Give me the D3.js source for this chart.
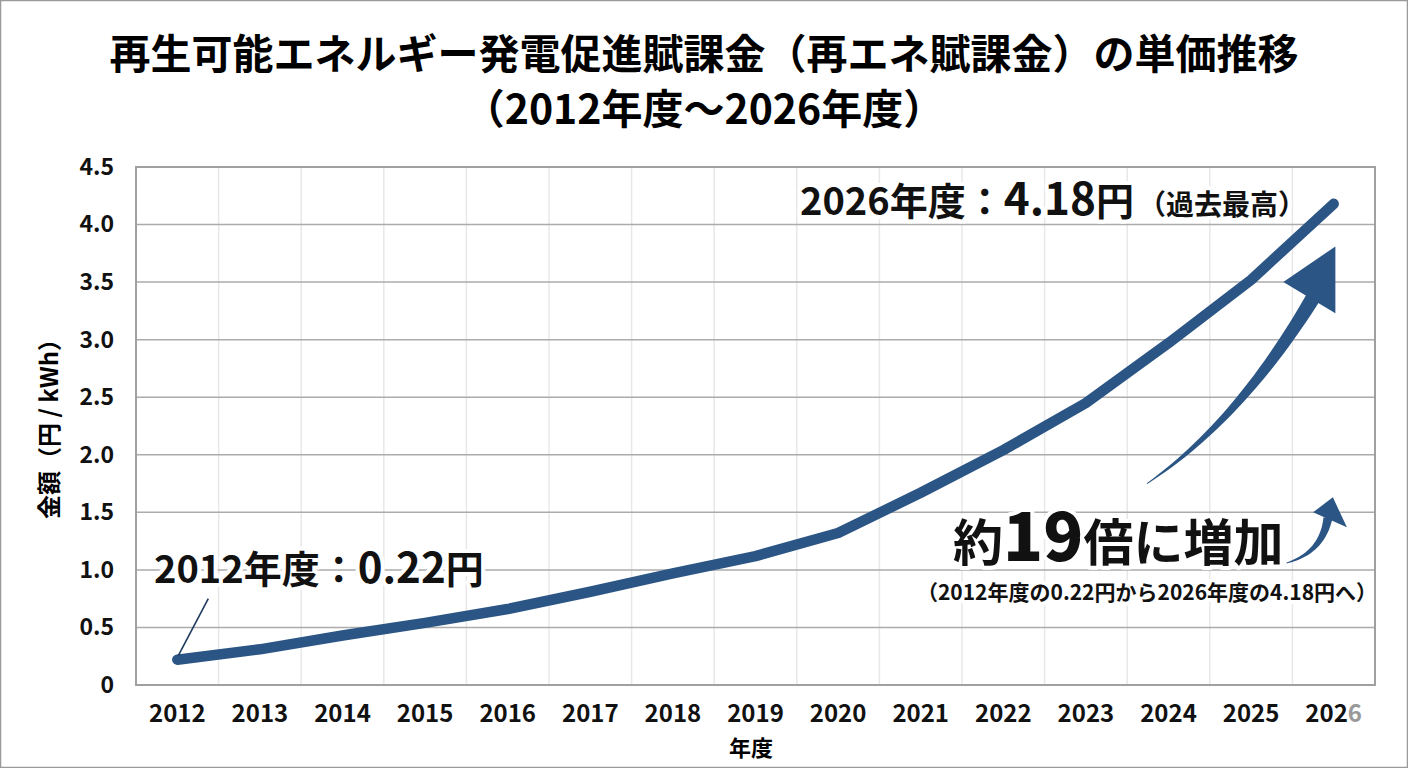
<!DOCTYPE html>
<html>
<head>
<meta charset="utf-8">
<script src="https://cdn.jsdelivr.net/npm/d3@7"></script>
<style>
  html, body { margin: 0; padding: 0; background: #fff; }
  text { font-family: "Noto Sans CJK JP", "Noto Sans", sans-serif; font-weight: 700; }
</style>
</head>
<body>
<div id="chart"></div>
<script>
// Data
var years = ['2012', '2013', '2014', '2015', '2016', '2017', '2018', '2019',
             '2020', '2021', '2022', '2023', '2024', '2025', '2026'];
var levy = [0.22, 0.31, 0.43, 0.54, 0.66, 0.81, 0.97, 1.12,
            1.32, 1.67, 2.04, 2.45, 2.97, 3.52, 4.18];
var yTicks = [0, 0.5, 1.0, 1.5, 2.0, 2.5, 3.0, 3.5, 4.0, 4.5];
var yTickLabels = ['0', '0.5', '1.0', '1.5', '2.0', '2.5', '3.0', '3.5', '4.0', '4.5'];

var titleLines = ['再生可能エネルギー発電促進賦課金（再エネ賦課金）の単価推移', '（2012年度～2026年度）'];

// Set margin parameters
var W = 1408, H = 768;
var margin = {top: 167, right: 33, bottom: 83, left: 136},
    width = W - margin.left - margin.right,
    height = H - margin.top - margin.bottom;

var navy = '#2b5584';

var x = d3.scaleBand().domain(years).range([0, width]).padding(0);
var y = d3.scaleLinear().domain([0, 4.5]).range([height, 0]);
var bw = x.bandwidth();

// helpers: fractional year index / value -> pixels
function px(i) { return x(years[0]) + bw / 2 + i * bw; }
function py(v) { return y(v); }

var svg = d3.select('#chart').append('svg')
    .attr('width', W)
    .attr('height', H);

svg.append('rect')
    .attr('x', 0.5).attr('y', 0.5)
    .attr('width', W - 1).attr('height', H - 1)
    .attr('fill', '#fff')
    .attr('stroke', '#9a9a9a')
    .attr('stroke-width', 1.5);

// Title
svg.append('text')
    .attr('x', W / 2).attr('y', 69)
    .attr('text-anchor', 'middle')
    .style('font-size', '41px')
    .text(titleLines[0]);
svg.append('text')
    .attr('x', W / 2).attr('y', 124)
    .attr('text-anchor', 'middle')
    .style('font-size', '41px')
    .text(titleLines[1]);

var g = svg.append('g')
    .attr('transform', 'translate(' + margin.left + ',' + margin.top + ')');

// vertical grid (light) at band boundaries
g.append('g').selectAll('line')
    .data(years.slice(1))
    .enter().append('line')
    .attr('x1', function(d) { return x(d); })
    .attr('x2', function(d) { return x(d); })
    .attr('y1', 0).attr('y2', height)
    .attr('stroke', '#e8e8e8')
    .attr('stroke-width', 1.5);

// horizontal grid
g.append('g').selectAll('line')
    .data(yTicks)
    .enter().append('line')
    .attr('x1', 0).attr('x2', width)
    .attr('y1', function(d) { return y(d); })
    .attr('y2', function(d) { return y(d); })
    .attr('stroke', '#ababab')
    .attr('stroke-width', 1.5);

// plot frame
g.append('rect')
    .attr('width', width).attr('height', height)
    .attr('fill', 'none')
    .attr('stroke', '#a0a0a0')
    .attr('stroke-width', 2);

// y axis
var yAxis = g.append('g')
    .call(d3.axisLeft(y).tickValues(yTicks)
      .tickFormat(function(d, i) { return yTickLabels[i]; })
      .tickSize(0).tickPadding(22));
yAxis.select('.domain').remove();
yAxis.selectAll('text')
    .style('font-size', '23px')
    .attr('fill', '#111')
    .attr('font-family', null);

// x axis
var xAxis = g.append('g')
    .attr('transform', 'translate(0,' + height + ')')
    .call(d3.axisBottom(x).tickSize(0).tickPadding(20));
xAxis.select('.domain').remove();
xAxis.selectAll('text')
    .style('font-size', '24px')
    .attr('fill', '#111')
    .attr('font-family', null);
// last label: the final digit is greyed in the original
xAxis.selectAll('.tick').filter(function(d) { return d === '2026'; }).select('text')
    .text(null)
    .call(function(t) {
      t.append('tspan').text('202');
      t.append('tspan').attr('fill', '#999').text('6');
    });

// axis titles
svg.append('text')
    .attr('transform', 'translate(58,423) rotate(-90)')
    .attr('text-anchor', 'middle')
    .style('font-size', '24px')
    .text('金額（円 / kWh）');
svg.append('text')
    .attr('x', 751).attr('y', 756)
    .attr('text-anchor', 'middle')
    .style('font-size', '22px')
    .text('年度');

// main line
var line = d3.line()
    .x(function(d, i) { return x(years[i]) + bw / 2; })
    .y(function(d) { return y(d); });

g.append('path')
    .datum(levy)
    .attr('fill', 'none')
    .attr('stroke', navy)
    .attr('stroke-width', 10.5)
    .attr('stroke-linecap', 'round')
    .attr('stroke-linejoin', 'round')
    .attr('d', line);

// leader line for first point
var p0x = x(years[0]) + bw / 2, p0y = y(levy[0]);
g.append('line')
    .attr('x1', p0x + 1).attr('y1', p0y - 4)
    .attr('x2', p0x + 31).attr('y2', p0y - 61)
    .attr('stroke', '#1f3b5e')
    .attr('stroke-width', 1.6);

// tapered curved arrow
function taperArrow(p0, p1, p2, w0, w1, head) {
  var pts = d3.range(0, 31).map(function(k) { return k / 30; });
  var left = [], right = [];
  pts.forEach(function(t) {
    var mt = 1 - t;
    var bx = mt * mt * p0[0] + 2 * mt * t * p1[0] + t * t * p2[0];
    var by = mt * mt * p0[1] + 2 * mt * t * p1[1] + t * t * p2[1];
    var dx = 2 * mt * (p1[0] - p0[0]) + 2 * t * (p2[0] - p1[0]);
    var dy = 2 * mt * (p1[1] - p0[1]) + 2 * t * (p2[1] - p1[1]);
    var len = Math.sqrt(dx * dx + dy * dy);
    var nx = -dy / len, ny = dx / len;
    var w = (w0 + (w1 - w0) * t) / 2;
    left.push([bx + nx * w, by + ny * w]);
    right.push([bx - nx * w, by - ny * w]);
  });
  var shaft = left.concat(right.reverse());
  g.append('path')
      .attr('d', d3.line()(shaft) + 'Z')
      .attr('fill', navy);
  g.append('path')
      .attr('d', d3.line()(head) + 'Z')
      .attr('fill', navy);
}

// big arrow beside the curve
taperArrow([px(11.74), py(1.75)], [px(12.87), py(2.30)], [px(13.78), py(3.40)], 1, 15,
  [[px(13.39), py(3.50)], [px(14.02), py(3.81)], [px(14.02), py(3.23)]]);

// small arrow after 約19倍に増加
taperArrow([px(13.43), py(1.06)], [px(13.86), py(1.15)], [px(13.93), py(1.45)], 1, 9,
  [[px(13.75), py(1.50)], [px(13.99), py(1.63)], [px(14.16), py(1.37)]]);

// annotations (white halo like the original)
function halo(sel) {
  sel.attr('stroke', '#fff').attr('stroke-width', 8)
     .attr('stroke-linejoin', 'round').attr('paint-order', 'stroke');
  return sel;
}

var a1 = svg.append('text')
    .attr('x', 154).attr('y', 583)
    .attr('fill', '#111')
    .style('font-size', '38px');
a1.append('tspan').text('2012年度：');
a1.append('tspan').style('font-size', '42px').text('0.22');
a1.append('tspan').text('円');
halo(a1);

var a2 = svg.append('text')
    .attr('x', 800).attr('y', 215)
    .attr('fill', '#111')
    .style('font-size', '38px');
a2.append('tspan').text('2026年度：');
a2.append('tspan').style('font-size', '44px').text('4.18');
a2.append('tspan').text('円');
a2.append('tspan').style('font-size', '28px').attr('dx', 4).text('（過去最高）');
halo(a2);

var a3 = svg.append('text')
    .attr('x', 953).attr('y', 561)
    .attr('fill', '#111')
    .style('font-size', '50px');
a3.append('tspan').text('約');
a3.append('tspan').style('font-size', '66px').style('font-weight', 900).text('19');
a3.append('tspan').text('倍に増加');
halo(a3);

halo(svg.append('text')
    .attr('x', 1147).attr('y', 600)
    .attr('text-anchor', 'middle')
    .attr('fill', '#111')
    .style('font-size', '21px')
    .text('（2012年度の0.22円から2026年度の4.18円へ）'));
</script>
</body>
</html>
